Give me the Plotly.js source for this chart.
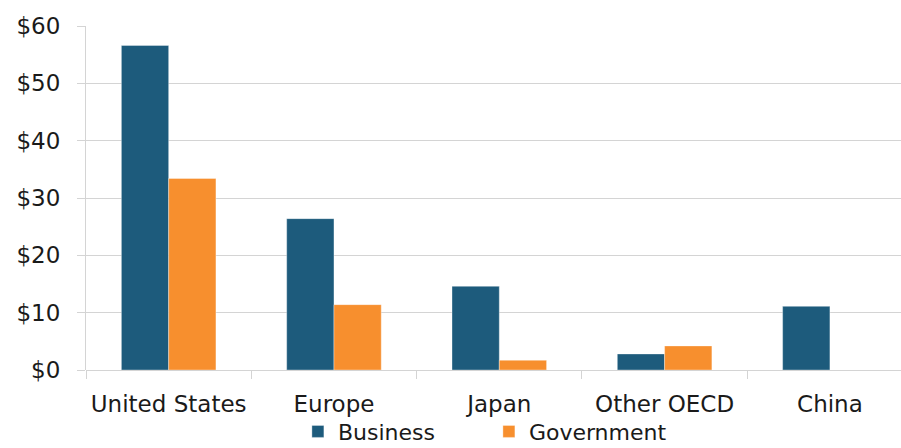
<!DOCTYPE html>
<html>
<head>
<meta charset="utf-8">
<script src="https://cdn.plot.ly/plotly-3.0.1.min.js"></script>
<style>
  html, body { margin: 0; padding: 0; background: #fff; }
  #chart { width: 901px; height: 448px; }
</style>
</head>
<body>
<div id="chart"></div>
<script>
// R&D spending by region, in billions of dollars
const regions = ["United States", "Europe", "Japan", "Other OECD", "China"];
const business = [56.6, 26.4, 14.6, 2.8, 11.1];
const government = [33.4, 11.4, 1.7, 4.2, null];
const yTickValues = [0, 10, 20, 30, 40, 50, 60];
const yTickLabels = ["$0", "$10", "$20", "$30", "$40", "$50", "$60"];

const FONT = "DejaVu Sans, sans-serif";
const GRID = "#d4d4d4";

const traces = [
  {
    type: "bar",
    name: "Business",
    x: regions,
    y: business,
    marker: { color: "#1d5b7c", line: { color: "rgba(255,255,255,0.35)", width: 1 } }
  },
  {
    type: "bar",
    name: "Government",
    x: regions,
    y: government,
    marker: { color: "#f78f2e", line: { color: "rgba(255,255,255,0.35)", width: 1 } }
  }
];

const layout = {
  width: 901,
  height: 448,
  margin: { l: 86, r: 0, t: 26, b: 78, pad: 0, autoexpand: false },
  paper_bgcolor: "#ffffff",
  plot_bgcolor: "#ffffff",
  barmode: "group",
  bargap: 0.428,
  bargroupgap: 0,
  font: { family: FONT, size: 23, color: "#1a1a1a" },
  xaxis: {
    type: "category",
    range: [-0.5, 4.43],
    tickson: "boundaries",
    ticks: "outside",
    ticklen: 8,
    tickwidth: 1,
    tickcolor: GRID,
    showgrid: false,
    showline: false,
    zeroline: false,
    automargin: false,
    ticklabelstandoff: 18,
    tickfont: { family: FONT, size: 23, color: "#1a1a1a" }
  },
  yaxis: {
    range: [0, 60],
    tickvals: yTickValues,
    ticktext: yTickLabels,
    ticks: "outside",
    ticklen: 8,
    tickwidth: 1,
    tickcolor: GRID,
    showgrid: true,
    gridcolor: GRID,
    gridwidth: 1,
    showline: true,
    linecolor: GRID,
    linewidth: 1,
    zeroline: true,
    zerolinecolor: GRID,
    zerolinewidth: 1,
    automargin: false,
    ticklabelstandoff: 12,
    tickfont: { family: FONT, size: 23, color: "#1a1a1a" }
  },
  showlegend: true,
  legend: {
    orientation: "h",
    x: 0.26,
    xanchor: "left",
    y: -0.118,
    yanchor: "top",
    font: { family: FONT, size: 22, color: "#1a1a1a" },
    bgcolor: "rgba(0,0,0,0)",
    entrywidth: 146,
    entrywidthmode: "pixels",
    traceorder: "normal",
    itemclick: false
  }
};

Plotly.newPlot("chart", traces, layout, { staticPlot: true, displayModeBar: false });
</script>
</body>
</html>
